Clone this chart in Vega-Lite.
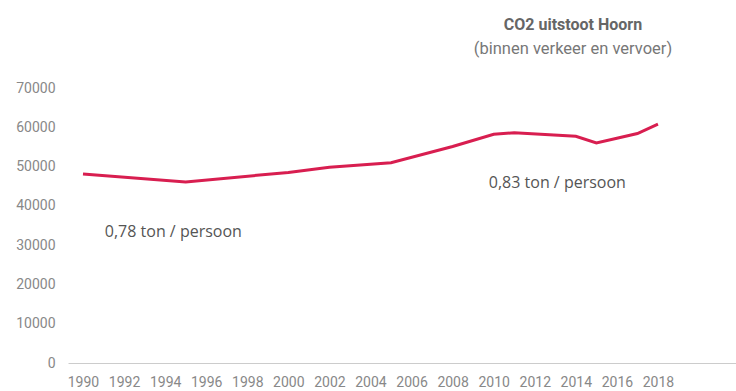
{
  "$schema": "https://vega.github.io/schema/vega-lite/v6.json",
  "autosize": {"type": "none"},
  "width": 668,
  "height": 275,
  "padding": {"left": 68, "top": 88, "right": 0, "bottom": 28},
  "background": "white",
  "title": {
    "text": "CO2 uitstoot Hoorn",
    "subtitle": "(binnen verkeer en vervoer)",
    "anchor": "middle",
    "frame": "group",
    "dx": 171,
    "offset": 24,
    "font": "Roboto",
    "fontSize": 16,
    "fontWeight": "bold",
    "color": "#666666",
    "subtitleFont": "Roboto",
    "subtitleFontSize": 16.5,
    "subtitleColor": "#777777",
    "subtitlePadding": 8
  },
  "config": {"view": {"stroke": null}},
  "datasets": {
    "co2": [
      {"jaar": 1990, "uitstoot": 48100},
      {"jaar": 1995, "uitstoot": 46100},
      {"jaar": 2000, "uitstoot": 48500},
      {"jaar": 2002, "uitstoot": 49800},
      {"jaar": 2005, "uitstoot": 51000},
      {"jaar": 2008, "uitstoot": 55100},
      {"jaar": 2010, "uitstoot": 58200},
      {"jaar": 2011, "uitstoot": 58600},
      {"jaar": 2014, "uitstoot": 57700},
      {"jaar": 2015, "uitstoot": 56000},
      {"jaar": 2016, "uitstoot": 57200},
      {"jaar": 2017, "uitstoot": 58400},
      {"jaar": 2018, "uitstoot": 60800}
    ],
    "labels": [
      {"jaar": 1994.4, "uitstoot": 33300, "tekst": "0,78 ton / persoon"},
      {"jaar": 2013.1, "uitstoot": 45800, "tekst": "0,83 ton / persoon"}
    ]
  },
  "encoding": {
    "x": {
      "field": "jaar",
      "type": "quantitative",
      "scale": {"domain": [1989.27, 2021.8], "nice": false, "zero": false},
      "axis": {
        "title": null,
        "values": [1990, 1992, 1994, 1996, 1998, 2000, 2002, 2004, 2006, 2008, 2010, 2012, 2014, 2016, 2018],
        "format": "d",
        "grid": false,
        "ticks": false,
        "domainColor": "#cccccc",
        "domainWidth": 1,
        "labelFont": "Roboto",
        "labelFontSize": 14,
        "labelColor": "#888888",
        "labelPadding": 12,
        "labelFlush": false,
        "labelOverlap": false
      }
    },
    "y": {
      "field": "uitstoot",
      "type": "quantitative",
      "scale": {"domain": [0, 70000], "nice": false},
      "axis": {
        "title": null,
        "values": [0, 10000, 20000, 30000, 40000, 50000, 60000, 70000],
        "format": "d",
        "grid": false,
        "ticks": false,
        "domain": false,
        "labelFont": "Roboto",
        "labelFontSize": 14,
        "labelColor": "#888888",
        "labelPadding": 13,
        "labelOverlap": false,
        "labelFlush": false
      }
    }
  },
  "layer": [
    {
      "data": {"name": "co2"},
      "mark": {"type": "line", "color": "#d81e50", "strokeWidth": 3, "clip": false}
    },
    {
      "data": {"name": "labels"},
      "mark": {"type": "text", "font": "Open Sans", "fontSize": 16, "color": "#555555", "align": "center", "baseline": "middle"},
      "encoding": {
        "text": {"field": "tekst", "type": "nominal"}
      }
    }
  ]
}
